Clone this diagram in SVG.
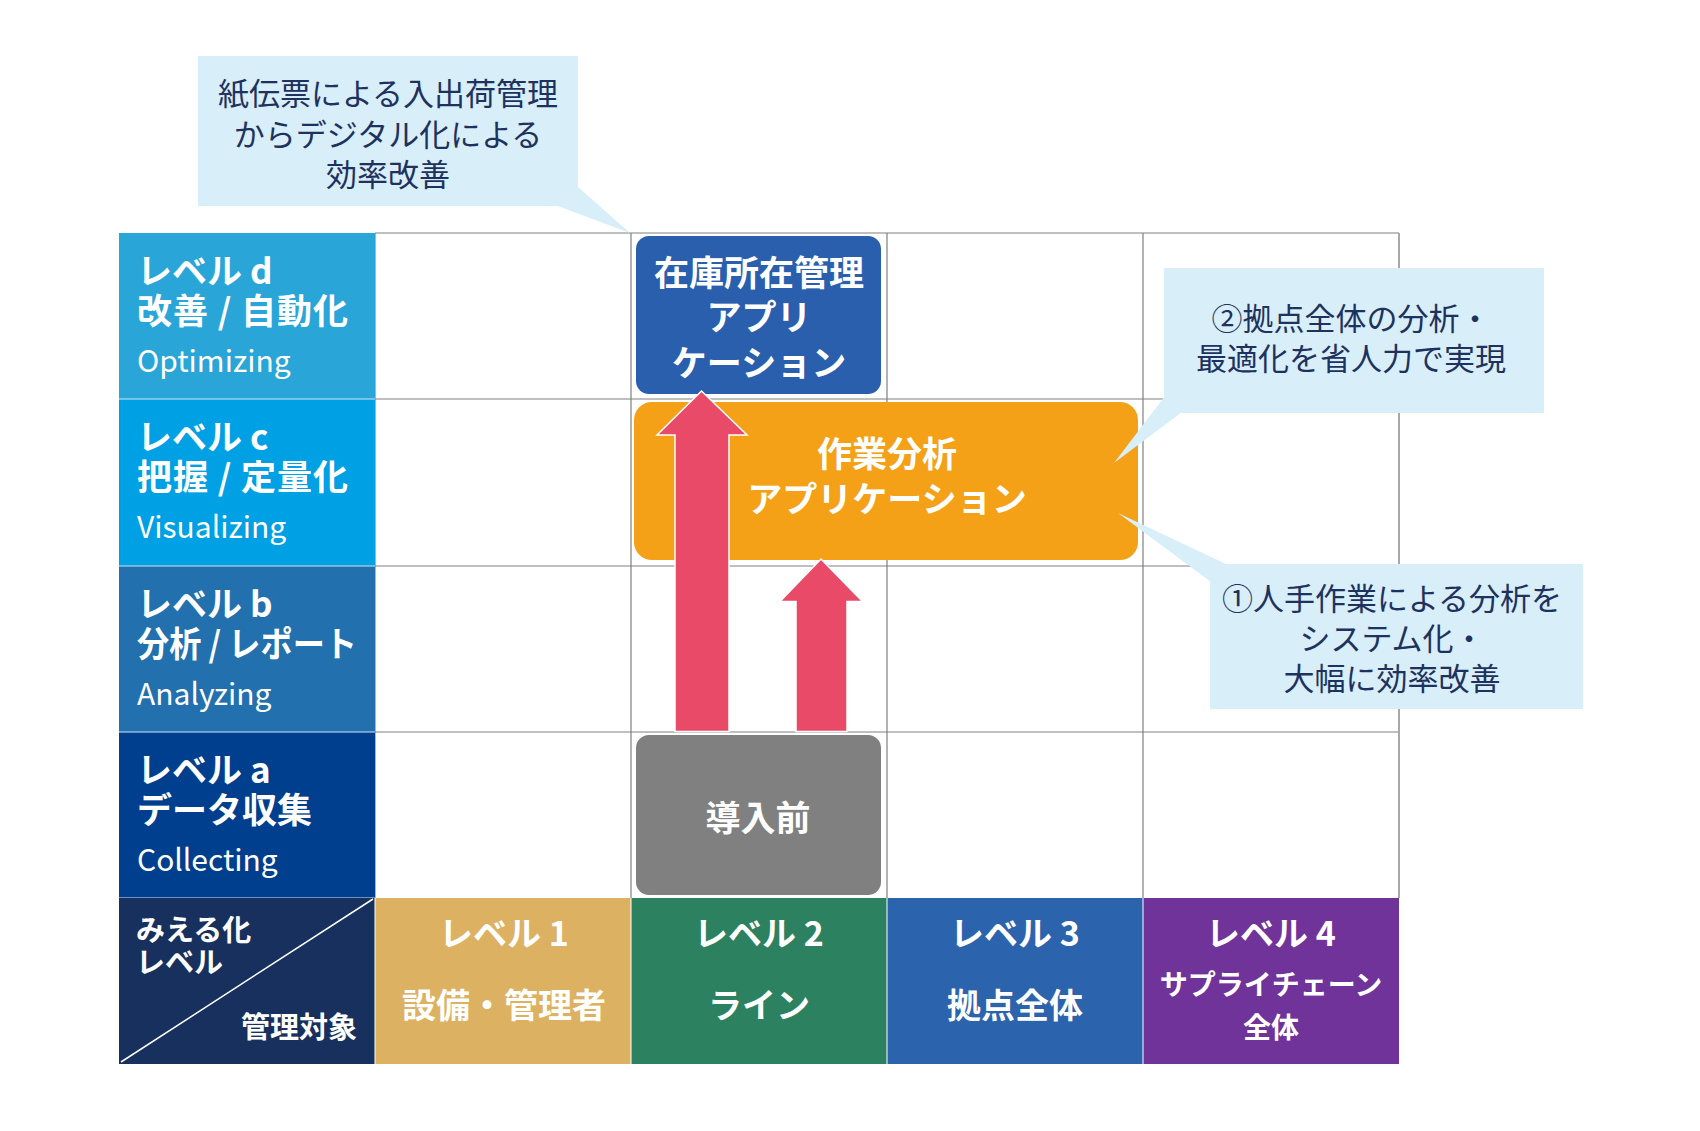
<svg xmlns="http://www.w3.org/2000/svg" width="1700" height="1131" viewBox="0 0 1700 1131">
<style>
text{font-family:"Noto Sans CJK JP","Noto Sans",sans-serif;}
.w{fill:#ffffff;font-weight:bold;}
.en{fill:#ffffff;font-weight:normal;font-size:30px;}
.hd{font-size:35px;}
.lb{font-size:34px;text-anchor:middle;}
.cl{fill:#d8eef9;}
.ct{fill:#1e3260;font-size:31px;text-anchor:middle;}
.gl{stroke:#808080;stroke-width:1.2;fill:none;}
.arrow{fill:#e84a68;stroke:#ffffff;stroke-width:1.5;}
.nd{font-size:35px;text-anchor:middle;}
</style>
<rect width="1700" height="1131" fill="#ffffff"/>

<g id="grid">
<path class="gl" d="M375 233H1399M375 399H1399M375 566H1399M375 732H1399"/>
<path class="gl" d="M375 233V898M631 233V898M887 233V898M1143 233V898"/>
<path d="M1399 233V898" stroke="#a8a8a8" stroke-width="2" fill="none"/>
</g>

<g id="level-d">
<rect x="119" y="233" width="256" height="166" fill="#29a5d8"/>
<text class="w hd" x="137" y="284">レベル d</text>
<text class="w hd" x="137" y="324" textLength="211" lengthAdjust="spacing">改善 / 自動化</text>
<text class="en" x="137" y="372">Optimizing</text>
</g>
<g id="level-c">
<rect x="119" y="399" width="256" height="167" fill="#00a0e4"/>
<text class="w hd" x="137" y="450">レベル c</text>
<text class="w hd" x="137" y="490" textLength="211" lengthAdjust="spacing">把握 / 定量化</text>
<text class="en" x="137" y="538">Visualizing</text>
</g>
<g id="level-b">
<rect x="119" y="566" width="256" height="166" fill="#2270ad"/>
<text class="w hd" x="137" y="617">レベル b</text>
<text class="w hd" x="137" y="657" textLength="220" lengthAdjust="spacingAndGlyphs">分析 / レポート</text>
<text class="en" x="137" y="705">Analyzing</text>
</g>
<g id="level-a">
<rect x="119" y="732" width="256" height="166" fill="#003f8e"/>
<text class="w hd" x="137" y="783">レベル a</text>
<text class="w hd" x="137" y="823">データ収集</text>
<text class="en" x="137" y="871">Collecting</text>
</g>
<path d="M119 399H375M119 566H375M119 732H375M119 898H375" stroke="#cfe6f4" stroke-width="1.2"/>

<g id="corner">
<rect x="119" y="898" width="256" height="166" fill="#17305d"/>
<line x1="121" y1="1062" x2="373" y2="899" stroke="#ffffff" stroke-width="1.5"/>
<text class="w" font-size="29" x="136" y="941">みえる化</text>
<text class="w" font-size="29" x="136" y="973">レベル</text>
<text class="w" font-size="29" x="357" y="1038" text-anchor="end">管理対象</text>
</g>

<g id="scope-1">
<rect x="375" y="898" width="256" height="166" fill="#dcb262"/>
<text class="w lb" x="504" y="946">レベル 1</text>
<text class="w lb" x="504" y="1018">設備・管理者</text>
</g>
<g id="scope-2">
<rect x="631" y="898" width="256" height="166" fill="#2c8160"/>
<text class="w lb" x="759" y="946">レベル 2</text>
<text class="w lb" x="759" y="1018">ライン</text>
</g>
<g id="scope-3">
<rect x="887" y="898" width="256" height="166" fill="#2b64ad"/>
<text class="w lb" x="1015" y="946">レベル 3</text>
<text class="w lb" x="1015" y="1018">拠点全体</text>
</g>
<g id="scope-4">
<rect x="1143" y="898" width="256" height="166" fill="#6f339a"/>
<text class="w lb" x="1271" y="946">レベル 4</text>
<text class="w" font-size="28" text-anchor="middle" x="1271" y="995">サプライチェーン</text>
<text class="w" font-size="28" text-anchor="middle" x="1271" y="1038">全体</text>
</g>
<path d="M375 898V1064M631 898V1064M887 898V1064M1143 898V1064" stroke="#ffffff" stroke-width="1"/>

<g id="node-inventory">
<rect x="636" y="236" width="245" height="158" rx="13" fill="#2a5fad"/>
<text class="w nd" x="759" y="286">在庫所在管理</text>
<text class="w nd" x="759" y="330">アプリ</text>
<text class="w nd" x="759" y="376">ケーション</text>
</g>
<g id="node-analysis">
<rect x="634" y="402" width="504" height="158" rx="18" fill="#f4a118"/>
<text class="w nd" x="887" y="467">作業分析</text>
<text class="w nd" x="887" y="512">アプリケーション</text>
</g>
<g id="node-before">
<rect x="636" y="735" width="245" height="160" rx="13" fill="#808080"/>
<text class="w nd" x="758" y="831">導入前</text>
</g>

<g id="connectors">
<polygon class="arrow" points="701.5,391 747,435 729,435 729,731.5 675,731.5 675,435 657,435"/>
<polygon class="arrow" points="821,559 862.5,601.5 847,601.5 847,731.5 796,731.5 796,601.5 780,601.5"/>
</g>

<g id="callout-top">
<polygon class="cl" points="630,233 555,205 578,205 578,187"/>
<rect class="cl" x="198" y="56" width="380" height="150"/>
<text class="ct" x="388" y="105">紙伝票による入出荷管理</text>
<text class="ct" x="388" y="146">からデジタル化による</text>
<text class="ct" x="388" y="186">効率改善</text>
</g>
<g id="callout-2">
<polygon class="cl" points="1114,463 1165,396 1165,412 1182,412"/>
<rect class="cl" x="1164" y="268" width="380" height="145"/>
<text class="ct" x="1351" y="330">②拠点全体の分析・</text>
<text class="ct" x="1351" y="370">最適化を省人力で実現</text>
</g>
<g id="callout-1">
<polygon class="cl" points="1118,513 1228,565 1211,565 1211,582"/>
<rect class="cl" x="1210" y="564" width="373" height="145"/>
<text class="ct" x="1392" y="610">①人手作業による分析を</text>
<text class="ct" x="1392" y="650">システム化・</text>
<text class="ct" x="1392" y="690">大幅に効率改善</text>
</g>
</svg>
